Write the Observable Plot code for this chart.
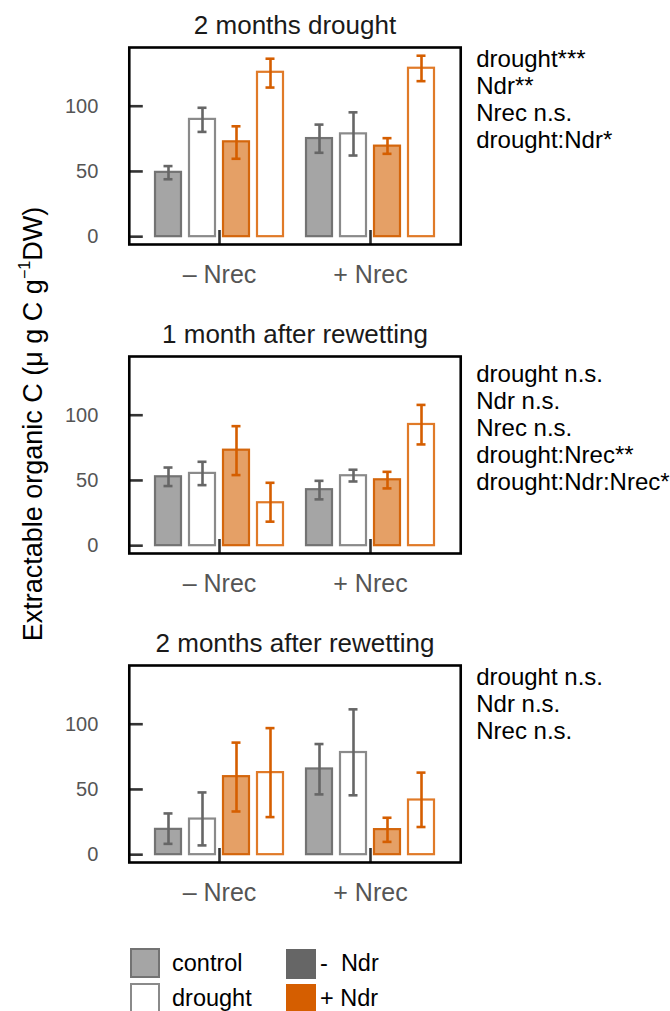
<!DOCTYPE html>
<html>
<head>
<meta charset="utf-8">
<script src="https://cdn.jsdelivr.net/npm/d3@7"></script>
<script src="https://cdn.jsdelivr.net/npm/@observablehq/plot@0.6"></script>
<style>
  body { margin: 0; background: #fff; font-family: "Liberation Sans", Arial, sans-serif; }
  #root { position: relative; width: 670px; height: 1011px; overflow: hidden; background: #fff; }
  .panel { position: absolute; left: 0; }
  .ylab { position: absolute; left: 33px; top: 424px; transform: translate(-50%, -50%) rotate(-90deg);
          white-space: nowrap; font-size: 27px; color: #000; }
  .ylab sup { font-size: 0.6em; position: relative; top: -0.1em; }
  .lg { position: absolute; font-size: 23.5px; color: #000; line-height: 1; }
  .sw { position: absolute; box-sizing: border-box; width: 30px; height: 30px; }
</style>
</head>
<body>
<div id="root"></div>
<script>
// ---------------- data ----------------
const panelTitles = ["2 months drought", "1 month after rewetting", "2 months after rewetting"];
const nrecGroups = ["– Nrec", "+ Nrec"];
const treatments = ["control -Ndr", "drought -Ndr", "control +Ndr", "drought +Ndr"];
const yTicks = [0, 50, 100];

// order: – Nrec (control -Ndr, drought -Ndr, control +Ndr, drought +Ndr), + Nrec (same)
const mean2mDrought  = [49.3, 89.9, 72.7, 126.0, 75.2, 78.8, 69.4, 129.1];
const lower2mDrought = [44.0, 80.3, 59.7, 114.3, 64.3, 62.2, 63.5, 119.2];
const upper2mDrought = [54.1, 98.8, 84.6, 136.4, 85.9, 95.3, 75.5, 138.7];

const mean1mRewet  = [52.8, 55.4, 73.2, 32.9, 42.9, 53.6, 50.5, 92.9];
const lower1mRewet = [45.7, 46.4, 54.1, 18.4, 35.5, 49.2, 43.9, 77.6];
const upper1mRewet = [59.9, 64.3, 91.6, 48.2, 49.7, 58.2, 56.6, 107.9];

const mean2mRewet  = [19.4, 27.3, 59.8, 62.9, 65.7, 78.3, 19.2, 41.9];
const lower2mRewet = [8.3, 7.1, 33.1, 28.8, 46.2, 45.5, 9.8, 21.2];
const upper2mRewet = [31.6, 47.7, 85.9, 97.0, 84.8, 111.4, 28.3, 62.9];

const stats2mDrought = ["drought***", "Ndr**", "Nrec n.s.", "drought:Ndr*"];
const stats1mRewet = ["drought n.s.", "Ndr n.s.", "Nrec n.s.", "drought:Nrec**", "drought:Ndr:Nrec*"];
const stats2mRewet = ["drought n.s.", "Ndr n.s.", "Nrec n.s."];

const legendTreatment = ["control", "drought"];
const legendNdr = ["-  Ndr", "+ Ndr"];

// ---------------- styles ----------------
const barFill   = {"control -Ndr": "#a5a5a5", "drought -Ndr": "#ffffff", "control +Ndr": "#e5a066", "drought +Ndr": "#ffffff"};
const barStroke = {"control -Ndr": "#737373", "drought -Ndr": "#8a8a8a", "control +Ndr": "#d4660c", "drought +Ndr": "#e07a28"};
const errColor  = {"control -Ndr": "#666666", "drought -Ndr": "#666666", "control +Ndr": "#d55e00", "drought +Ndr": "#d55e00"};
const statsDy = [0, 6, 0];
const font = "Liberation Sans, Arial, Helvetica, sans-serif";
const panelH = 309;
const W = 670, mL = 128, mR = 210;
const fxPadIn = 0.06, fxPadOut = 0.127;
// facet bands are inset from the plot edges by the fx outer padding;
// axis and frame are pushed back out to the plot edges by that amount
const fxStep = (W - mL - mR) / (2 - fxPadIn + 2 * fxPadOut);
const edge = fxPadOut * fxStep;

const panelData = [
  [mean2mDrought, lower2mDrought, upper2mDrought, stats2mDrought],
  [mean1mRewet, lower1mRewet, upper1mRewet, stats1mRewet],
  [mean2mRewet, lower2mRewet, upper2mRewet, stats2mRewet]
];

const root = document.getElementById("root");

panelData.forEach(([mean, lower, upper, stats], p) => {
  const rows = mean.map((m, i) => ({
    nrec: nrecGroups[Math.floor(i / 4)],
    trt: treatments[i % 4],
    mean: m, lower: lower[i], upper: upper[i]
  }));
  const chart = Plot.plot({
    width: W, height: panelH,
    marginTop: 47, marginBottom: 65, marginLeft: mL, marginRight: mR,
    style: {fontFamily: font, background: "transparent", overflow: "visible"},
    fx: {domain: nrecGroups, paddingInner: fxPadIn, paddingOuter: fxPadOut, label: null, axis: null},
    x: {domain: treatments, paddingInner: 0.24, paddingOuter: 0.2, axis: null},
    y: {domain: [-6, 145], axis: null},
    color: {type: "identity"},
    marks: [
      Plot.barY(rows, {fx: "nrec", x: "trt", y: "mean",
        fill: d => barFill[d.trt], stroke: d => barStroke[d.trt], strokeWidth: 2.2}),
      Plot.ruleX(rows, {fx: "nrec", x: "trt", y1: "lower", y2: "upper",
        stroke: d => errColor[d.trt], strokeWidth: 2.6}),
      Plot.tickY(rows, {fx: "nrec", x: "trt", y: "lower", stroke: d => errColor[d.trt], strokeWidth: 2.6, inset: 8.5}),
      Plot.tickY(rows, {fx: "nrec", x: "trt", y: "upper", stroke: d => errColor[d.trt], strokeWidth: 2.6, inset: 8.5}),
      Plot.axisY(yTicks, {anchor: "left", tickSize: -14, tickPadding: 45, dx: -edge,
        stroke: "#333", strokeWidth: 2.6, fill: "#555", fontSize: 20, label: null}),
      Plot.axisFx({anchor: "bottom", tickSize: -14, tickPadding: 35,
        stroke: "#333", strokeWidth: 2.6, fill: "#555", fontSize: 25, label: null}),
      Plot.frame({facet: "super", stroke: "#000", strokeWidth: 2.6, insetLeft: -edge, insetRight: -edge}),
      Plot.text([panelTitles[p]], {facet: "super", text: d => d, frameAnchor: "top",
        lineAnchor: "bottom", dy: -14, fontSize: 26, fill: "#1a1a1a"}),
      Plot.text([stats.join("\n")], {facet: "super", text: d => d, frameAnchor: "top-right",
        textAnchor: "start", lineAnchor: "top", dx: edge + 15.5, dy: statsDy[p], fontSize: 24,
        lineHeight: 1.13, fill: "#000"})
    ]
  });
  const wrap = document.createElement("div");
  wrap.className = "panel";
  wrap.style.top = (p * panelH) + "px";
  wrap.appendChild(chart);
  root.appendChild(wrap);
});

// y-axis title
const yl = document.createElement("div");
yl.className = "ylab";
yl.innerHTML = "Extractable organic C (μ g C g<sup>−1</sup>DW)";
root.appendChild(yl);

// legend
function addSwatch(x, y, fill, stroke) {
  const s = document.createElement("div");
  s.className = "sw";
  s.style.left = x + "px"; s.style.top = y + "px";
  s.style.background = fill;
  s.style.border = stroke ? ("2.2px solid " + stroke) : "none";
  root.appendChild(s);
}
function addLabel(x, y, txt) {
  const t = document.createElement("div");
  t.className = "lg";
  t.style.left = x + "px"; t.style.top = y + "px";
  t.style.whiteSpace = "pre";
  t.textContent = txt;
  root.appendChild(t);
}
addSwatch(130, 948, barFill["control -Ndr"], barStroke["control -Ndr"]);
addSwatch(130, 983, "#ffffff", barStroke["drought -Ndr"]);
addLabel(172, 952, legendTreatment[0]);
addLabel(172, 987, legendTreatment[1]);
addSwatch(286, 949, errColor["control -Ndr"], null);
addSwatch(286, 984, errColor["control +Ndr"], null);
addLabel(320, 952, legendNdr[0]);
addLabel(320, 987, legendNdr[1]);
</script>
</body>
</html>
